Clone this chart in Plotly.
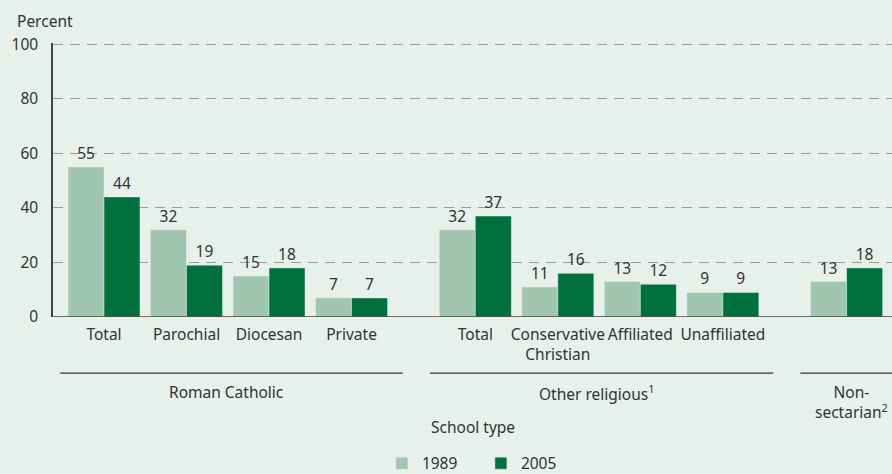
import plotly.graph_objects as go

categories = ["Total", "Parochial", "Diocesan", "Private",
              "Total", "Conservative<br>Christian", "Affiliated", "Unaffiliated",
              ""]
positions = [0, 1, 2, 3, 4.5, 5.5, 6.5, 7.5, 9]
values_1989 = [55, 32, 15, 7, 32, 11, 13, 9, 13]
values_2005 = [44, 19, 18, 7, 37, 16, 12, 9, 18]
group_labels = ["Roman Catholic", "Other religious<sup>1</sup>", "Non-<br>sectarian<sup>2</sup>"]
group_spans = [(-0.53, 3.62), (3.95, 8.11), (8.44, 9.6)]
group_centers = [1.48, 5.97, 9.53]
group_anchors = ["center", "center", "right"]

FONT = "Noto Sans, Open Sans, sans-serif"
FS = 15.5
TXT = "#333333"
C1989 = "#a0c5b1"
C2005 = "#00703c"
BG = "#e7f0eb"

fig = go.Figure()
fig.add_trace(go.Bar(x=positions, y=values_1989, name="1989", marker_color=C1989,
                     text=[str(v) for v in values_1989], textposition="outside",
                     textfont=dict(size=FS, color=TXT, family=FONT), cliponaxis=False))
fig.add_trace(go.Bar(x=positions, y=values_2005, name="2005", marker_color=C2005,
                     text=[str(v) for v in values_2005], textposition="outside",
                     textfont=dict(size=FS, color=TXT, family=FONT), cliponaxis=False))

for (x0, x1) in group_spans:
    fig.add_shape(type="line", xref="x", yref="paper", x0=x0, x1=x1, y0=-0.205, y1=-0.205,
                  line=dict(color="#333333", width=1.3))

for lab, cx, anc in zip(group_labels, group_centers, group_anchors):
    fig.add_annotation(x=cx, y=-0.225, xref="x", yref="paper", text=lab, showarrow=False,
                       xanchor=anc, align="center", yanchor="top",
                       font=dict(size=FS, color=TXT, family=FONT))

fig.add_annotation(x=3.94, y=-0.403, xref="x", yref="paper", text="School type", showarrow=False,
                   xanchor="left", yanchor="middle", font=dict(size=FS, color=TXT, family=FONT))
fig.add_annotation(x=-0.045, y=1.081, xref="paper", yref="paper", text="Percent", showarrow=False,
                   xanchor="left", yanchor="middle", font=dict(size=FS, color=TXT, family=FONT))

fig.update_layout(
    width=892, height=474,
    margin=dict(l=53, r=0, t=43, b=157, autoexpand=False),
    paper_bgcolor=BG, plot_bgcolor=BG,
    barmode="group", bargap=0.127, bargroupgap=0,
    font=dict(family=FONT, size=FS, color=TXT),
    showlegend=True,
    legend=dict(orientation="h", x=0.51, xanchor="center", y=-0.535, yanchor="middle",
                font=dict(size=FS, color=TXT, family=FONT), bgcolor="rgba(0,0,0,0)",
                itemwidth=30, entrywidth=54, traceorder="normal"),
    xaxis=dict(range=[-0.618, 9.55], tickvals=positions, ticktext=categories,
               tickangle=0, automargin=False,
               showgrid=False, zeroline=False, showline=False,
               ticks="outside", ticklen=3, tickcolor=BG,
               tickfont=dict(size=FS, color=TXT, family=FONT)),
    yaxis=dict(range=[0, 100.4], tickvals=[0, 20, 40, 60, 80, 100], automargin=False,
               showgrid=True, gridcolor="#9a9a9a", griddash="10px,7px", gridwidth=1.4,
               zeroline=False, showline=True, linecolor="#444444", linewidth=1.5,
               ticks="outside", ticklen=10, tickcolor=BG,
               tickfont=dict(size=FS, color=TXT, family=FONT)),
)
fig.add_shape(type="line", xref="paper", yref="y", x0=0, x1=1, y0=0, y1=0,
              line=dict(color="#444444", width=1.5))

fig.write_html("out.html", config={"displayModeBar": False},
               post_script="document.body.style.margin='0';document.body.style.overflow='hidden';")
